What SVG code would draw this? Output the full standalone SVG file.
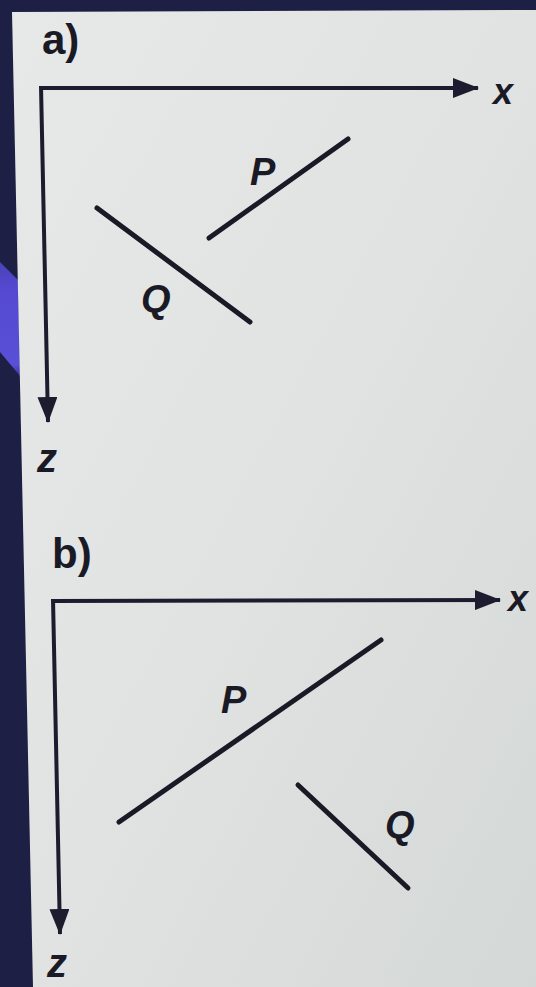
<svg xmlns="http://www.w3.org/2000/svg" width="536" height="987" viewBox="0 0 536 987">
  <defs>
    <linearGradient id="panelGrad" x1="0" y1="0" x2="1" y2="1">
      <stop offset="0" stop-color="#e6e9e7"/>
      <stop offset="0.5" stop-color="#e0e3e1"/>
      <stop offset="1" stop-color="#d4d8d7"/>
    </linearGradient>
    <linearGradient id="glow" x1="0" y1="0" x2="0" y2="1">
      <stop offset="0" stop-color="#4a42b8"/>
      <stop offset="0.25" stop-color="#5549d2"/>
      <stop offset="0.9" stop-color="#5850d6"/>
      <stop offset="1" stop-color="#3a3596"/>
    </linearGradient>
    <marker id="arrow" markerUnits="userSpaceOnUse" markerWidth="26" markerHeight="20" refX="25" refY="10" orient="auto" viewBox="0 0 26 20">
      <path d="M0,0 L26,10 L0,20 Z" fill="#1c1c2e"/>
    </marker>
    <style>
      .axis { stroke: #1c1c2e; stroke-width: 4; fill: none; }
      .seg { stroke: #1a1a26; stroke-width: 5; stroke-linecap: round; fill: none; }
      .lbl { font-family: "Liberation Sans", Arial, sans-serif; font-weight: bold; font-style: italic; fill: #1a1a26; }
      .panelLbl { font-family: "Liberation Sans", Arial, sans-serif; font-weight: bold; fill: #1a1a26; font-size: 42px; }
    </style>
  </defs>

  <!-- background -->
  <rect x="0" y="0" width="536" height="987" fill="#1e1f44"/>
  <path d="M0,262 L18,280 L20,376 L0,352 Z" fill="url(#glow)"/>
  <polygon points="12,12 536,10 536,987 33,987" fill="url(#panelGrad)"/>

  <!-- connectors (axes) -->
  <g id="connectors">
    <line class="axis" x1="40" y1="88" x2="478" y2="88" marker-end="url(#arrow)"/>
    <line class="axis" x1="41" y1="86" x2="48" y2="422" marker-end="url(#arrow)"/>
    <line class="axis" x1="52" y1="601" x2="500" y2="600" marker-end="url(#arrow)"/>
    <line class="axis" x1="53" y1="599" x2="60" y2="934" marker-end="url(#arrow)"/>
  </g>

  <!-- panel a -->
  <g id="panel-a-label"><text class="panelLbl" x="42" y="54">a)</text></g>
  <g id="axis-a-x"><text class="lbl" x="493" y="104" font-size="36">x</text></g>
  <g id="axis-a-z"><text class="lbl" x="37" y="472" font-size="40">z</text></g>
  <g id="a-P">
    <line class="seg" x1="209" y1="238" x2="348" y2="139"/>
    <text class="lbl" x="250" y="185" font-size="38">P</text>
  </g>
  <g id="a-Q">
    <line class="seg" x1="97" y1="208" x2="250" y2="322"/>
    <text class="lbl" x="141" y="312" font-size="38">Q</text>
  </g>

  <!-- panel b -->
  <g id="panel-b-label"><text class="panelLbl" x="52" y="568">b)</text></g>
  <g id="axis-b-x"><text class="lbl" x="508" y="611" font-size="36">x</text></g>
  <g id="axis-b-z"><text class="lbl" x="47" y="977" font-size="40">z</text></g>
  <g id="b-P">
    <line class="seg" x1="119" y1="822" x2="381" y2="640"/>
    <text class="lbl" x="221" y="713" font-size="38">P</text>
  </g>
  <g id="b-Q">
    <line class="seg" x1="298" y1="785" x2="408" y2="888"/>
    <text class="lbl" x="385" y="838" font-size="38">Q</text>
  </g>
</svg>
